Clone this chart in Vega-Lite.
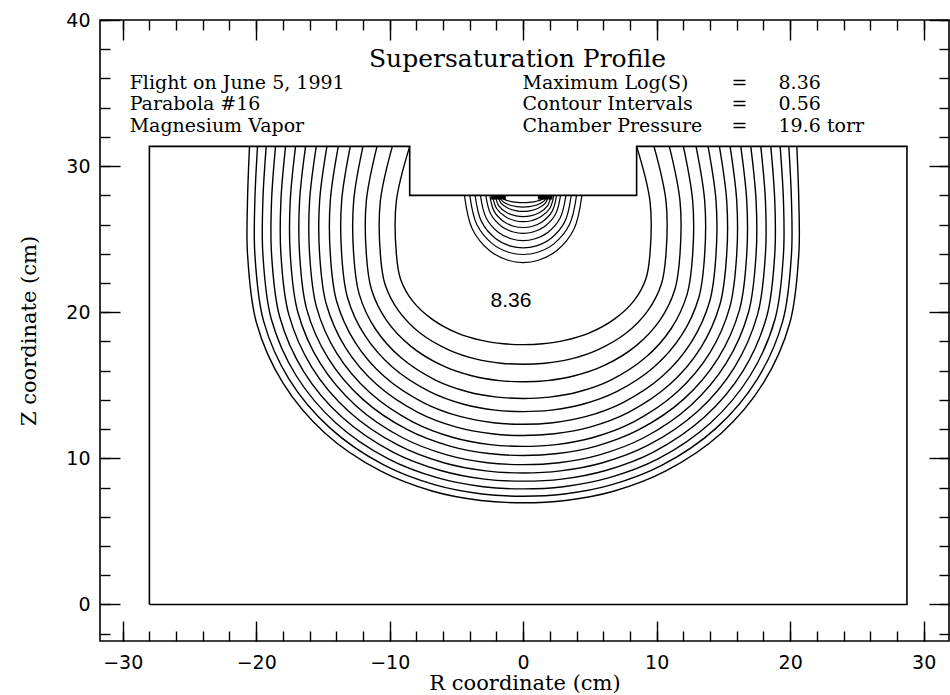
{
  "$schema": "https://vega.github.io/schema/vega-lite/v6.json",
  "width": 849,
  "height": 621,
  "autosize": "none",
  "padding": {"left": 100, "top": 20, "right": 1, "bottom": 54},
  "background": "white",
  "config": {
    "view": {"stroke": "black", "strokeWidth": 1.6},
    "axis": {"grid": false, "domain": false, "tickColor": "black", "tickWidth": 1.4, "labelColor": "black", "titleColor": "black", "labelFlush": false, "labelOverlap": false}
  },
  "datasets": {
    "chamber": [
      {"o": 0, "r": -28.0, "z": 0}, {"o": 1, "r": -28.0, "z": 31.35}, {"o": 2, "r": -8.5, "z": 31.35}, {"o": 3, "r": -8.5, "z": 28.0},
      {"o": 4, "r": 8.5, "z": 28.0}, {"o": 5, "r": 8.5, "z": 31.35}, {"o": 6, "r": 28.75, "z": 31.35}, {"o": 7, "r": 28.75, "z": 0}, {"o": 8, "r": -28.0, "z": 0}
    ],
    "contours": [
      {"c":0,"o":0,"r":-8.5,"z":31.35},{"c":0,"o":1,"r":-9.5,"z":27.6},{"c":0,"o":2,"r":-9.5,"z":24},{"c":0,"o":3,"r":-9.19,"z":22.28},{"c":0,"o":4,"r":-8.29,"z":20.78},{"c":0,"o":5,"r":-6.83,"z":19.53},{"c":0,"o":6,"r":-4.92,"z":18.57},{"c":0,"o":7,"r":-3.11,"z":18.07},{"c":0,"o":8,"r":-1.46,"z":17.84},{"c":0,"o":9,"r":0,"z":17.78},{"c":0,"o":10,"r":1.46,"z":17.84},{"c":0,"o":11,"r":3.11,"z":18.07},{"c":0,"o":12,"r":4.92,"z":18.57},{"c":0,"o":13,"r":6.83,"z":19.53},{"c":0,"o":14,"r":8.29,"z":20.78},{"c":0,"o":15,"r":9.19,"z":22.28},{"c":0,"o":16,"r":9.5,"z":24},{"c":0,"o":17,"r":9.5,"z":27.6},{"c":0,"o":18,"r":8.5,"z":31.35},
      {"c":1,"o":0,"r":-9.8,"z":31.35},{"c":1,"o":1,"r":-10.7,"z":27.6},{"c":1,"o":2,"r":-10.7,"z":24},{"c":1,"o":3,"r":-10.35,"z":21.91},{"c":1,"o":4,"r":-9.33,"z":20.09},{"c":1,"o":5,"r":-7.7,"z":18.56},{"c":1,"o":6,"r":-5.54,"z":17.41},{"c":1,"o":7,"r":-3.51,"z":16.79},{"c":1,"o":8,"r":-1.64,"z":16.51},{"c":1,"o":9,"r":0,"z":16.44},{"c":1,"o":10,"r":1.64,"z":16.51},{"c":1,"o":11,"r":3.51,"z":16.79},{"c":1,"o":12,"r":5.54,"z":17.41},{"c":1,"o":13,"r":7.7,"z":18.56},{"c":1,"o":14,"r":9.33,"z":20.09},{"c":1,"o":15,"r":10.35,"z":21.91},{"c":1,"o":16,"r":10.7,"z":24},{"c":1,"o":17,"r":10.7,"z":27.6},{"c":1,"o":18,"r":9.8,"z":31.35},
      {"c":2,"o":0,"r":-10.95,"z":31.35},{"c":2,"o":1,"r":-11.75,"z":27.6},{"c":2,"o":2,"r":-11.75,"z":24},{"c":2,"o":3,"r":-11.37,"z":21.57},{"c":2,"o":4,"r":-10.25,"z":19.46},{"c":2,"o":5,"r":-8.45,"z":17.7},{"c":2,"o":6,"r":-6.08,"z":16.36},{"c":2,"o":7,"r":-3.85,"z":15.65},{"c":2,"o":8,"r":-1.8,"z":15.32},{"c":2,"o":9,"r":0,"z":15.24},{"c":2,"o":10,"r":1.8,"z":15.32},{"c":2,"o":11,"r":3.85,"z":15.65},{"c":2,"o":12,"r":6.08,"z":16.36},{"c":2,"o":13,"r":8.45,"z":17.7},{"c":2,"o":14,"r":10.25,"z":19.46},{"c":2,"o":15,"r":11.37,"z":21.57},{"c":2,"o":16,"r":11.75,"z":24},{"c":2,"o":17,"r":11.75,"z":27.6},{"c":2,"o":18,"r":10.95,"z":31.35},
      {"c":3,"o":0,"r":-12.0,"z":31.35},{"c":3,"o":1,"r":-12.7,"z":27.6},{"c":3,"o":2,"r":-12.7,"z":24},{"c":3,"o":3,"r":-12.29,"z":21.26},{"c":3,"o":4,"r":-11.08,"z":18.87},{"c":3,"o":5,"r":-9.14,"z":16.88},{"c":3,"o":6,"r":-6.57,"z":15.36},{"c":3,"o":7,"r":-4.16,"z":14.56},{"c":3,"o":8,"r":-1.95,"z":14.19},{"c":3,"o":9,"r":0,"z":14.1},{"c":3,"o":10,"r":1.95,"z":14.19},{"c":3,"o":11,"r":4.16,"z":14.56},{"c":3,"o":12,"r":6.57,"z":15.36},{"c":3,"o":13,"r":9.14,"z":16.88},{"c":3,"o":14,"r":11.08,"z":18.87},{"c":3,"o":15,"r":12.29,"z":21.26},{"c":3,"o":16,"r":12.7,"z":24},{"c":3,"o":17,"r":12.7,"z":27.6},{"c":3,"o":18,"r":12.0,"z":31.35},
      {"c":4,"o":0,"r":-12.95,"z":31.35},{"c":4,"o":1,"r":-13.6,"z":27.6},{"c":4,"o":2,"r":-13.6,"z":24},{"c":4,"o":3,"r":-13.16,"z":21.01},{"c":4,"o":4,"r":-11.86,"z":18.41},{"c":4,"o":5,"r":-9.78,"z":16.23},{"c":4,"o":6,"r":-7.04,"z":14.58},{"c":4,"o":7,"r":-4.46,"z":13.7},{"c":4,"o":8,"r":-2.09,"z":13.3},{"c":4,"o":9,"r":0,"z":13.2},{"c":4,"o":10,"r":2.09,"z":13.3},{"c":4,"o":11,"r":4.46,"z":13.7},{"c":4,"o":12,"r":7.04,"z":14.58},{"c":4,"o":13,"r":9.78,"z":16.23},{"c":4,"o":14,"r":11.86,"z":18.41},{"c":4,"o":15,"r":13.16,"z":21.01},{"c":4,"o":16,"r":13.6,"z":24},{"c":4,"o":17,"r":13.6,"z":27.6},{"c":4,"o":18,"r":12.95,"z":31.35},
      {"c":5,"o":0,"r":-13.85,"z":31.35},{"c":5,"o":1,"r":-14.45,"z":27.6},{"c":5,"o":2,"r":-14.45,"z":24},{"c":5,"o":3,"r":-13.98,"z":20.77},{"c":5,"o":4,"r":-12.6,"z":17.96},{"c":5,"o":5,"r":-10.4,"z":15.6},{"c":5,"o":6,"r":-7.48,"z":13.82},{"c":5,"o":7,"r":-4.74,"z":12.87},{"c":5,"o":8,"r":-2.22,"z":12.44},{"c":5,"o":9,"r":0,"z":12.33},{"c":5,"o":10,"r":2.22,"z":12.44},{"c":5,"o":11,"r":4.74,"z":12.87},{"c":5,"o":12,"r":7.48,"z":13.82},{"c":5,"o":13,"r":10.4,"z":15.6},{"c":5,"o":14,"r":12.6,"z":17.96},{"c":5,"o":15,"r":13.98,"z":20.77},{"c":5,"o":16,"r":14.45,"z":24},{"c":5,"o":17,"r":14.45,"z":27.6},{"c":5,"o":18,"r":13.85,"z":31.35},
      {"c":6,"o":0,"r":-14.7,"z":31.35},{"c":6,"o":1,"r":-15.25,"z":27.6},{"c":6,"o":2,"r":-15.25,"z":24},{"c":6,"o":3,"r":-14.75,"z":20.56},{"c":6,"o":4,"r":-13.3,"z":17.56},{"c":6,"o":5,"r":-10.97,"z":15.05},{"c":6,"o":6,"r":-7.89,"z":13.15},{"c":6,"o":7,"r":-5.0,"z":12.14},{"c":6,"o":8,"r":-2.34,"z":11.68},{"c":6,"o":9,"r":0,"z":11.56},{"c":6,"o":10,"r":2.34,"z":11.68},{"c":6,"o":11,"r":5.0,"z":12.14},{"c":6,"o":12,"r":7.89,"z":13.15},{"c":6,"o":13,"r":10.97,"z":15.05},{"c":6,"o":14,"r":13.3,"z":17.56},{"c":6,"o":15,"r":14.75,"z":20.56},{"c":6,"o":16,"r":15.25,"z":24},{"c":6,"o":17,"r":15.25,"z":27.6},{"c":6,"o":18,"r":14.7,"z":31.35},
      {"c":7,"o":0,"r":-15.5,"z":31.35},{"c":7,"o":1,"r":-16.0,"z":27.6},{"c":7,"o":2,"r":-16.0,"z":24},{"c":7,"o":3,"r":-15.48,"z":20.35},{"c":7,"o":4,"r":-13.96,"z":17.18},{"c":7,"o":5,"r":-11.51,"z":14.52},{"c":7,"o":6,"r":-8.28,"z":12.5},{"c":7,"o":7,"r":-5.24,"z":11.43},{"c":7,"o":8,"r":-2.46,"z":10.94},{"c":7,"o":9,"r":0,"z":10.82},{"c":7,"o":10,"r":2.46,"z":10.94},{"c":7,"o":11,"r":5.24,"z":11.43},{"c":7,"o":12,"r":8.28,"z":12.5},{"c":7,"o":13,"r":11.51,"z":14.52},{"c":7,"o":14,"r":13.96,"z":17.18},{"c":7,"o":15,"r":15.48,"z":20.35},{"c":7,"o":16,"r":16.0,"z":24},{"c":7,"o":17,"r":16.0,"z":27.6},{"c":7,"o":18,"r":15.5,"z":31.35},
      {"c":8,"o":0,"r":-16.3,"z":31.35},{"c":8,"o":1,"r":-16.75,"z":27.6},{"c":8,"o":2,"r":-16.75,"z":24},{"c":8,"o":3,"r":-16.21,"z":20.18},{"c":8,"o":4,"r":-14.61,"z":16.86},{"c":8,"o":5,"r":-12.05,"z":14.07},{"c":8,"o":6,"r":-8.67,"z":11.96},{"c":8,"o":7,"r":-5.49,"z":10.84},{"c":8,"o":8,"r":-2.57,"z":10.33},{"c":8,"o":9,"r":0,"z":10.2},{"c":8,"o":10,"r":2.57,"z":10.33},{"c":8,"o":11,"r":5.49,"z":10.84},{"c":8,"o":12,"r":8.67,"z":11.96},{"c":8,"o":13,"r":12.05,"z":14.07},{"c":8,"o":14,"r":14.61,"z":16.86},{"c":8,"o":15,"r":16.21,"z":20.18},{"c":8,"o":16,"r":16.75,"z":24},{"c":8,"o":17,"r":16.75,"z":27.6},{"c":8,"o":18,"r":16.3,"z":31.35},
      {"c":9,"o":0,"r":-17.05,"z":31.35},{"c":9,"o":1,"r":-17.45,"z":27.6},{"c":9,"o":2,"r":-17.45,"z":24},{"c":9,"o":3,"r":-16.88,"z":20.0},{"c":9,"o":4,"r":-15.22,"z":16.53},{"c":9,"o":5,"r":-12.55,"z":13.62},{"c":9,"o":6,"r":-9.03,"z":11.41},{"c":9,"o":7,"r":-5.72,"z":10.24},{"c":9,"o":8,"r":-2.68,"z":9.7},{"c":9,"o":9,"r":0,"z":9.57},{"c":9,"o":10,"r":2.68,"z":9.7},{"c":9,"o":11,"r":5.72,"z":10.24},{"c":9,"o":12,"r":9.03,"z":11.41},{"c":9,"o":13,"r":12.55,"z":13.62},{"c":9,"o":14,"r":15.22,"z":16.53},{"c":9,"o":15,"r":16.88,"z":20.0},{"c":9,"o":16,"r":17.45,"z":24},{"c":9,"o":17,"r":17.45,"z":27.6},{"c":9,"o":18,"r":17.05,"z":31.35},
      {"c":10,"o":0,"r":-17.8,"z":31.35},{"c":10,"o":1,"r":-18.15,"z":27.6},{"c":10,"o":2,"r":-18.15,"z":24},{"c":10,"o":3,"r":-17.56,"z":19.85},{"c":10,"o":4,"r":-15.83,"z":16.23},{"c":10,"o":5,"r":-13.06,"z":13.21},{"c":10,"o":6,"r":-9.4,"z":10.92},{"c":10,"o":7,"r":-5.95,"z":9.7},{"c":10,"o":8,"r":-2.79,"z":9.14},{"c":10,"o":9,"r":0,"z":9.0},{"c":10,"o":10,"r":2.79,"z":9.14},{"c":10,"o":11,"r":5.95,"z":9.7},{"c":10,"o":12,"r":9.4,"z":10.92},{"c":10,"o":13,"r":13.06,"z":13.21},{"c":10,"o":14,"r":15.83,"z":16.23},{"c":10,"o":15,"r":17.56,"z":19.85},{"c":10,"o":16,"r":18.15,"z":24},{"c":10,"o":17,"r":18.15,"z":27.6},{"c":10,"o":18,"r":17.8,"z":31.35},
      {"c":11,"o":0,"r":-18.55,"z":31.35},{"c":11,"o":1,"r":-18.85,"z":27.6},{"c":11,"o":2,"r":-18.85,"z":24},{"c":11,"o":3,"r":-18.24,"z":19.69},{"c":11,"o":4,"r":-16.44,"z":15.94},{"c":11,"o":5,"r":-13.56,"z":12.81},{"c":11,"o":6,"r":-9.76,"z":10.43},{"c":11,"o":7,"r":-6.18,"z":9.17},{"c":11,"o":8,"r":-2.9,"z":8.58},{"c":11,"o":9,"r":0,"z":8.44},{"c":11,"o":10,"r":2.9,"z":8.58},{"c":11,"o":11,"r":6.18,"z":9.17},{"c":11,"o":12,"r":9.76,"z":10.43},{"c":11,"o":13,"r":13.56,"z":12.81},{"c":11,"o":14,"r":16.44,"z":15.94},{"c":11,"o":15,"r":18.24,"z":19.69},{"c":11,"o":16,"r":18.85,"z":24},{"c":11,"o":17,"r":18.85,"z":27.6},{"c":11,"o":18,"r":18.55,"z":31.35},
      {"c":12,"o":0,"r":-19.25,"z":31.35},{"c":12,"o":1,"r":-19.5,"z":27.6},{"c":12,"o":2,"r":-19.5,"z":24},{"c":12,"o":3,"r":-18.87,"z":19.54},{"c":12,"o":4,"r":-17.01,"z":15.67},{"c":12,"o":5,"r":-14.03,"z":12.42},{"c":12,"o":6,"r":-10.1,"z":9.96},{"c":12,"o":7,"r":-6.39,"z":8.66},{"c":12,"o":8,"r":-3.0,"z":8.06},{"c":12,"o":9,"r":0,"z":7.91},{"c":12,"o":10,"r":3.0,"z":8.06},{"c":12,"o":11,"r":6.39,"z":8.66},{"c":12,"o":12,"r":10.1,"z":9.96},{"c":12,"o":13,"r":14.03,"z":12.42},{"c":12,"o":14,"r":17.01,"z":15.67},{"c":12,"o":15,"r":18.87,"z":19.54},{"c":12,"o":16,"r":19.5,"z":24},{"c":12,"o":17,"r":19.5,"z":27.6},{"c":12,"o":18,"r":19.25,"z":31.35},
      {"c":13,"o":0,"r":-19.9,"z":31.35},{"c":13,"o":1,"r":-20.1,"z":27.6},{"c":13,"o":2,"r":-20.1,"z":24},{"c":13,"o":3,"r":-19.45,"z":19.41},{"c":13,"o":4,"r":-17.53,"z":15.41},{"c":13,"o":5,"r":-14.46,"z":12.07},{"c":13,"o":6,"r":-10.41,"z":9.53},{"c":13,"o":7,"r":-6.59,"z":8.18},{"c":13,"o":8,"r":-3.09,"z":7.56},{"c":13,"o":9,"r":0,"z":7.41},{"c":13,"o":10,"r":3.09,"z":7.56},{"c":13,"o":11,"r":6.59,"z":8.18},{"c":13,"o":12,"r":10.41,"z":9.53},{"c":13,"o":13,"r":14.46,"z":12.07},{"c":13,"o":14,"r":17.53,"z":15.41},{"c":13,"o":15,"r":19.45,"z":19.41},{"c":13,"o":16,"r":20.1,"z":24},{"c":13,"o":17,"r":20.1,"z":27.6},{"c":13,"o":18,"r":19.9,"z":31.35},
      {"c":14,"o":0,"r":-20.5,"z":31.35},{"c":14,"o":1,"r":-20.65,"z":27.6},{"c":14,"o":2,"r":-20.65,"z":24},{"c":14,"o":3,"r":-19.98,"z":19.28},{"c":14,"o":4,"r":-18.01,"z":15.18},{"c":14,"o":5,"r":-14.86,"z":11.74},{"c":14,"o":6,"r":-10.69,"z":9.14},{"c":14,"o":7,"r":-6.77,"z":7.75},{"c":14,"o":8,"r":-3.17,"z":7.12},{"c":14,"o":9,"r":0,"z":6.96},{"c":14,"o":10,"r":3.17,"z":7.12},{"c":14,"o":11,"r":6.77,"z":7.75},{"c":14,"o":12,"r":10.69,"z":9.14},{"c":14,"o":13,"r":14.86,"z":11.74},{"c":14,"o":14,"r":18.01,"z":15.18},{"c":14,"o":15,"r":19.98,"z":19.28},{"c":14,"o":16,"r":20.65,"z":24},{"c":14,"o":17,"r":20.65,"z":27.6},{"c":14,"o":18,"r":20.5,"z":31.35}
    ],
    "arcs": [
      {"c":1,"o":0,"r":-4.4,"z":28.0},{"c":1,"o":1,"r":-3.81,"z":25.7},{"c":1,"o":2,"r":-2.53,"z":24.23},{"c":1,"o":3,"r":-1.14,"z":23.56},{"c":1,"o":4,"r":0,"z":23.4},{"c":1,"o":5,"r":1.14,"z":23.56},{"c":1,"o":6,"r":2.53,"z":24.23},{"c":1,"o":7,"r":3.81,"z":25.7},{"c":1,"o":8,"r":4.4,"z":28.0},
      {"c":2,"o":0,"r":-4.0,"z":28.0},{"c":2,"o":1,"r":-3.46,"z":25.98},{"c":2,"o":2,"r":-2.3,"z":24.68},{"c":2,"o":3,"r":-1.04,"z":24.09},{"c":2,"o":4,"r":0,"z":23.95},{"c":2,"o":5,"r":1.04,"z":24.09},{"c":2,"o":6,"r":2.3,"z":24.68},{"c":2,"o":7,"r":3.46,"z":25.98},{"c":2,"o":8,"r":4.0,"z":28.0},
      {"c":3,"o":0,"r":-3.6,"z":28.0},{"c":3,"o":1,"r":-3.12,"z":26.2},{"c":3,"o":2,"r":-2.07,"z":25.05},{"c":3,"o":3,"r":-0.93,"z":24.52},{"c":3,"o":4,"r":0,"z":24.4},{"c":3,"o":5,"r":0.93,"z":24.52},{"c":3,"o":6,"r":2.07,"z":25.05},{"c":3,"o":7,"r":3.12,"z":26.2},{"c":3,"o":8,"r":3.6,"z":28.0},
      {"c":4,"o":0,"r":-3.2,"z":28.0},{"c":4,"o":1,"r":-2.77,"z":26.45},{"c":4,"o":2,"r":-1.84,"z":25.46},{"c":4,"o":3,"r":-0.83,"z":25.01},{"c":4,"o":4,"r":0,"z":24.9},{"c":4,"o":5,"r":0.83,"z":25.01},{"c":4,"o":6,"r":1.84,"z":25.46},{"c":4,"o":7,"r":2.77,"z":26.45},{"c":4,"o":8,"r":3.2,"z":28.0},
      {"c":5,"o":0,"r":-2.8,"z":28.0},{"c":5,"o":1,"r":-2.42,"z":26.7},{"c":5,"o":2,"r":-1.61,"z":25.87},{"c":5,"o":3,"r":-0.73,"z":25.49},{"c":5,"o":4,"r":0,"z":25.4},{"c":5,"o":5,"r":0.73,"z":25.49},{"c":5,"o":6,"r":1.61,"z":25.87},{"c":5,"o":7,"r":2.42,"z":26.7},{"c":5,"o":8,"r":2.8,"z":28.0},
      {"c":6,"o":0,"r":-2.5,"z":28.0},{"c":6,"o":1,"r":-2.17,"z":26.9},{"c":6,"o":2,"r":-1.44,"z":26.2},{"c":6,"o":3,"r":-0.65,"z":25.87},{"c":6,"o":4,"r":0,"z":25.8},{"c":6,"o":5,"r":0.65,"z":25.87},{"c":6,"o":6,"r":1.44,"z":26.2},{"c":6,"o":7,"r":2.17,"z":26.9},{"c":6,"o":8,"r":2.5,"z":28.0},
      {"c":7,"o":0,"r":-2.3,"z":28.0},{"c":7,"o":1,"r":-1.99,"z":27.1},{"c":7,"o":2,"r":-1.32,"z":26.53},{"c":7,"o":3,"r":-0.6,"z":26.26},{"c":7,"o":4,"r":0,"z":26.2},{"c":7,"o":5,"r":0.6,"z":26.26},{"c":7,"o":6,"r":1.32,"z":26.53},{"c":7,"o":7,"r":1.99,"z":27.1},{"c":7,"o":8,"r":2.3,"z":28.0},
      {"c":8,"o":0,"r":-2.1,"z":28.0},{"c":8,"o":1,"r":-1.82,"z":27.28},{"c":8,"o":2,"r":-1.21,"z":26.81},{"c":8,"o":3,"r":-0.54,"z":26.6},{"c":8,"o":4,"r":0,"z":26.55},{"c":8,"o":5,"r":0.54,"z":26.6},{"c":8,"o":6,"r":1.21,"z":26.81},{"c":8,"o":7,"r":1.82,"z":27.28},{"c":8,"o":8,"r":2.1,"z":28.0},
      {"c":9,"o":0,"r":-1.9,"z":28.0},{"c":9,"o":1,"r":-1.65,"z":27.45},{"c":9,"o":2,"r":-1.09,"z":27.1},{"c":9,"o":3,"r":-0.49,"z":26.94},{"c":9,"o":4,"r":0,"z":26.9},{"c":9,"o":5,"r":0.49,"z":26.94},{"c":9,"o":6,"r":1.09,"z":27.1},{"c":9,"o":7,"r":1.65,"z":27.45},{"c":9,"o":8,"r":1.9,"z":28.0},
      {"c":10,"o":0,"r":-1.8,"z":28.0},{"c":10,"o":1,"r":-1.56,"z":27.6},{"c":10,"o":2,"r":-1.03,"z":27.34},{"c":10,"o":3,"r":-0.47,"z":27.23},{"c":10,"o":4,"r":0,"z":27.2},{"c":10,"o":5,"r":0.47,"z":27.23},{"c":10,"o":6,"r":1.03,"z":27.34},{"c":10,"o":7,"r":1.56,"z":27.6},{"c":10,"o":8,"r":1.8,"z":28.0},
      {"c":11,"o":0,"r":-1.7,"z":28.0},{"c":11,"o":1,"r":-1.47,"z":27.75},{"c":11,"o":2,"r":-0.98,"z":27.59},{"c":11,"o":3,"r":-0.44,"z":27.52},{"c":11,"o":4,"r":0,"z":27.5},{"c":11,"o":5,"r":0.44,"z":27.52},{"c":11,"o":6,"r":0.98,"z":27.59},{"c":11,"o":7,"r":1.47,"z":27.75},{"c":11,"o":8,"r":1.7,"z":28.0}
    ],
    "patches": [
      {"p": 0, "o": 0, "r": -2.4, "z": 27.85}, {"p": 0, "o": 1, "r": -1.3, "z": 27.85},
      {"p": 1, "o": 0, "r": 1.1, "z": 27.85}, {"p": 1, "o": 1, "r": 2.2, "z": 27.85}
    ],
    "notes": [
      {"r": -29.48, "z": 35.28, "t": "Flight on June 5, 1991"},
      {"r": -29.48, "z": 33.84, "t": "Parabola #16"},
      {"r": -29.48, "z": 32.33, "t": "Magnesium Vapor"},
      {"r": -0.05, "z": 35.28, "t": "Maximum Log(S)"},
      {"r": -0.05, "z": 33.84, "t": "Contour Intervals"},
      {"r": -0.05, "z": 32.33, "t": "Chamber Pressure"},
      {"r": 19.13, "z": 35.28, "t": "8.36"},
      {"r": 19.13, "z": 33.84, "t": "0.56"},
      {"r": 19.13, "z": 32.33, "t": "19.6 torr"}
    ],
    "equals": [
      {"r": 16.2, "z": 35.28, "t": "="},
      {"r": 16.2, "z": 33.84, "t": "="},
      {"r": 16.2, "z": 32.33, "t": "="}
    ],
    "title": [
      {"r": -0.42, "z": 36.78, "t": "Supersaturation Profile"}
    ],
    "maxlabel": [
      {"r": -2.44, "z": 20.36, "t": "8.36"}
    ]
  },
  "layer": [
    {
      "data": {"name": "chamber"},
      "mark": {"type": "line", "color": "black", "strokeWidth": 1.6, "interpolate": "linear"},
      "encoding": {
        "x": {"field": "r", "type": "quantitative", "scale": {"domain": [-31.7, 31.9], "nice": false, "zero": false},
          "axis": {"orient": "bottom", "offset": -20, "values": [-30, -20, -10, 0, 10, 20, 30], "tickSize": 20, "labelPadding": 12, "labelFont": "DejaVu Sans", "labelFontSize": 19, "title": "R coordinate (cm)", "titleFont": "DejaVu Serif", "titleFontSize": 21, "titleFontWeight": "normal", "titlePadding": 0}},
        "y": {"field": "z", "type": "quantitative", "scale": {"domain": [-2.5, 40], "nice": false, "zero": false},
          "axis": {"orient": "left", "offset": -20, "values": [0, 10, 20, 30, 40], "tickSize": 20, "labelPadding": 10, "labelFont": "DejaVu Sans", "labelFontSize": 19, "title": "Z coordinate (cm)", "titleFont": "DejaVu Serif", "titleFontSize": 21, "titleFontWeight": "normal", "titlePadding": 26}},
        "order": {"field": "o", "type": "quantitative"}
      }
    },
    {
      "data": {"name": "contours"},
      "mark": {"type": "line", "color": "black", "strokeWidth": 1.4, "interpolate": "catmull-rom"},
      "encoding": {
        "x": {"field": "r", "type": "quantitative", "scale": {"domain": [-31.7, 31.9], "nice": false, "zero": false},
          "axis": {"orient": "bottom", "offset": -10, "values": [-30, -28, -26, -24, -22, -20, -18, -16, -14, -12, -10, -8, -6, -4, -2, 0, 2, 4, 6, 8, 10, 12, 14, 16, 18, 20, 22, 24, 26, 28, 30], "tickSize": 10, "labels": false, "title": null}},
        "y": {"field": "z", "type": "quantitative", "scale": {"domain": [-2.5, 40], "nice": false, "zero": false},
          "axis": {"orient": "left", "offset": -10, "values": [-2, 0, 2, 4, 6, 8, 10, 12, 14, 16, 18, 20, 22, 24, 26, 28, 30, 32, 34, 36, 38, 40], "tickSize": 10, "labels": false, "title": null}},
        "detail": {"field": "c", "type": "nominal"},
        "order": {"field": "o", "type": "quantitative"}
      }
    },
    {
      "data": {"name": "arcs"},
      "mark": {"type": "line", "color": "black", "strokeWidth": 1.2, "interpolate": "catmull-rom"},
      "encoding": {
        "x": {"field": "r", "type": "quantitative", "scale": {"domain": [-31.7, 31.9], "nice": false, "zero": false},
          "axis": {"orient": "top", "offset": -20, "values": [-30, -20, -10, 0, 10, 20, 30], "tickSize": 20, "labels": false, "title": null}},
        "y": {"field": "z", "type": "quantitative", "scale": {"domain": [-2.5, 40], "nice": false, "zero": false},
          "axis": {"orient": "right", "offset": -20, "values": [0, 10, 20, 30, 40], "tickSize": 20, "labels": false, "title": null}},
        "detail": {"field": "c", "type": "nominal"},
        "order": {"field": "o", "type": "quantitative"}
      }
    },
    {
      "data": {"name": "patches"},
      "mark": {"type": "line", "color": "black", "strokeWidth": 4},
      "encoding": {
        "x": {"field": "r", "type": "quantitative", "scale": {"domain": [-31.7, 31.9], "nice": false, "zero": false},
          "axis": {"orient": "top", "offset": -10, "values": [-30, -28, -26, -24, -22, -20, -18, -16, -14, -12, -10, -8, -6, -4, -2, 0, 2, 4, 6, 8, 10, 12, 14, 16, 18, 20, 22, 24, 26, 28, 30], "tickSize": 10, "labels": false, "title": null}},
        "y": {"field": "z", "type": "quantitative", "scale": {"domain": [-2.5, 40], "nice": false, "zero": false},
          "axis": {"orient": "right", "offset": -10, "values": [-2, 0, 2, 4, 6, 8, 10, 12, 14, 16, 18, 20, 22, 24, 26, 28, 30, 32, 34, 36, 38, 40], "tickSize": 10, "labels": false, "title": null}},
        "detail": {"field": "p", "type": "nominal"},
        "order": {"field": "o", "type": "quantitative"}
      }
    },
    {
      "data": {"name": "notes"},
      "mark": {"type": "text", "align": "left", "baseline": "alphabetic", "font": "DejaVu Serif", "fontSize": 19, "color": "black"},
      "encoding": {
        "x": {"field": "r", "type": "quantitative", "axis": null},
        "y": {"field": "z", "type": "quantitative", "axis": null},
        "text": {"field": "t"}
      }
    },
    {
      "data": {"name": "equals"},
      "mark": {"type": "text", "align": "center", "baseline": "alphabetic", "font": "DejaVu Serif", "fontSize": 19, "color": "black"},
      "encoding": {
        "x": {"field": "r", "type": "quantitative", "axis": null},
        "y": {"field": "z", "type": "quantitative", "axis": null},
        "text": {"field": "t"}
      }
    },
    {
      "data": {"name": "title"},
      "mark": {"type": "text", "align": "center", "baseline": "alphabetic", "font": "DejaVu Serif", "fontSize": 25, "color": "black"},
      "encoding": {
        "x": {"field": "r", "type": "quantitative", "axis": null},
        "y": {"field": "z", "type": "quantitative", "axis": null},
        "text": {"field": "t"}
      }
    },
    {
      "data": {"name": "maxlabel"},
      "mark": {"type": "text", "align": "left", "baseline": "alphabetic", "font": "Liberation Sans", "fontSize": 21, "color": "black"},
      "encoding": {
        "x": {"field": "r", "type": "quantitative", "axis": null},
        "y": {"field": "z", "type": "quantitative", "axis": null},
        "text": {"field": "t"}
      }
    }
  ],
  "resolve": {"axis": {"x": "independent", "y": "independent"}}
}
